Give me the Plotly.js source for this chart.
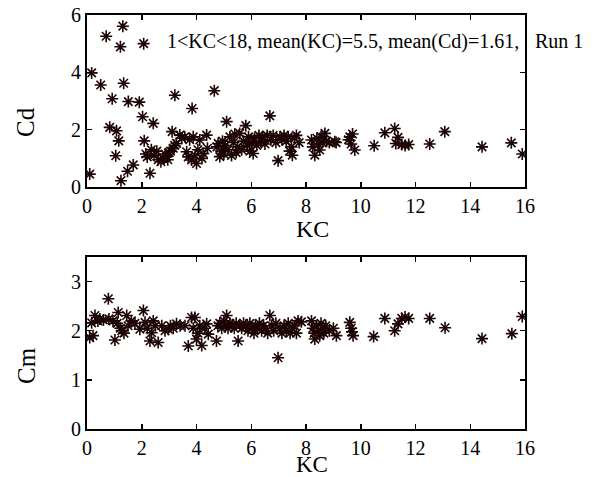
<!DOCTYPE html>
<html><head><meta charset="utf-8">
<script src="https://cdn.plot.ly/plotly-3.0.1.min.js"></script>
<style>html,body{margin:0;padding:0;background:#fff}</style>
</head><body><div id="chart" style="width:603px;height:477px"></div>
<script>
// Top panel: Cd vs KC
const kcCd = [0.10,0.17,0.50,0.70,0.83,0.92,1.05,1.08,1.16,1.22,1.24,1.31,1.34,1.48,1.51,1.69,1.91,2.03,2.07,2.09,2.15,2.20,2.30,2.35,2.42,2.45,2.55,2.60,2.70,2.78,2.85,2.90,2.95,3.00,3.05,3.11,3.15,3.20,3.21,3.27,3.39,3.46,3.57,3.64,3.70,3.75,3.82,3.84,3.88,3.95,4.00,4.05,4.12,4.20,4.25,4.37,4.40,4.65,4.75,4.79,4.85,4.90,4.95,5.00,5.05,5.10,5.15,5.22,5.28,5.35,5.40,5.45,5.50,5.58,5.65,5.72,5.80,5.85,5.90,5.95,6.02,6.07,6.12,6.20,6.28,6.35,6.42,6.50,6.58,6.68,6.72,6.80,6.90,6.98,7.05,7.12,7.20,7.28,7.35,7.40,7.47,7.50,7.58,7.65,7.75,8.20,8.25,8.32,8.40,8.45,8.50,8.55,8.60,8.69,8.75,8.85,9.05,9.10,9.55,9.60,9.65,9.70,9.78,10.49,10.88,11.24,11.28,11.36,11.50,11.62,11.75,12.52,13.07,14.43,15.50,15.90];
const cd = [0.45,3.98,3.56,5.26,2.08,3.08,1.09,1.96,1.61,4.89,0.22,5.61,3.62,0.55,2.98,0.77,2.96,2.45,5.00,1.61,1.15,1.05,0.48,1.30,2.22,1.10,1.25,0.95,0.88,1.00,1.15,1.06,0.95,1.20,1.25,1.93,1.35,1.45,3.20,1.52,1.81,1.70,1.75,1.23,1.05,1.65,0.94,2.74,1.75,1.10,0.82,1.30,1.64,1.00,1.17,1.81,1.35,3.36,1.40,1.52,1.06,1.25,1.60,1.15,1.45,2.28,1.30,1.75,1.10,1.55,1.85,1.20,1.40,1.87,1.30,1.60,2.14,1.45,1.75,1.25,1.55,1.17,1.70,1.45,1.80,1.60,1.75,1.50,1.80,2.48,1.65,1.80,1.55,0.92,1.75,1.65,1.80,1.60,1.75,1.25,1.40,1.11,1.70,1.80,1.55,1.64,1.40,1.11,1.70,1.50,1.29,1.75,1.55,1.87,1.60,1.55,1.58,1.55,1.65,1.75,1.50,1.85,1.29,1.44,1.89,2.04,1.52,1.73,1.48,1.45,1.48,1.50,1.93,1.40,1.54,1.15];

// Bottom panel: Cm vs KC
const kcCm = [0.10,0.17,0.22,0.29,0.40,0.47,0.60,0.78,0.80,0.95,1.02,1.10,1.14,1.22,1.27,1.35,1.45,1.50,1.62,1.75,1.93,2.06,2.12,2.20,2.30,2.36,2.42,2.50,2.60,2.73,2.85,2.97,3.05,3.15,3.27,3.40,3.58,3.70,3.82,3.88,3.94,4.00,4.05,4.12,4.19,4.30,4.37,4.43,4.73,4.78,4.85,4.92,5.00,5.05,5.10,5.15,5.22,5.30,5.38,5.45,5.52,5.58,5.65,5.72,5.80,5.88,5.95,6.02,6.10,6.15,6.22,6.30,6.38,6.45,6.52,6.60,6.68,6.75,6.82,6.90,6.98,7.05,7.12,7.20,7.28,7.35,7.42,7.50,7.58,7.65,7.71,7.83,8.20,8.25,8.30,8.32,8.38,8.45,8.50,8.55,8.60,8.65,8.72,8.85,9.00,9.11,9.60,9.65,9.68,9.72,10.47,10.88,11.24,11.36,11.50,11.62,11.75,12.52,13.08,14.43,15.52,15.90];
const cm = [1.86,2.16,1.90,2.31,2.20,2.24,2.22,2.65,2.24,2.20,1.81,2.15,2.37,2.05,2.00,1.95,2.31,2.10,2.20,2.15,2.03,2.41,2.17,2.05,1.79,1.96,2.20,2.10,1.76,2.10,2.00,2.03,2.10,2.05,2.14,2.10,2.10,1.69,2.27,2.05,2.27,1.83,1.95,2.10,1.70,2.05,2.14,1.93,1.79,2.10,2.15,2.05,2.20,2.10,2.31,2.05,2.15,2.10,2.05,2.15,1.79,2.10,2.05,2.15,2.10,2.00,2.15,2.05,1.95,2.10,2.05,2.15,2.00,2.10,2.05,1.95,2.31,2.10,2.00,2.15,1.45,2.05,1.95,2.10,2.00,2.15,1.95,2.05,2.10,1.95,2.20,2.18,2.20,2.05,1.95,1.83,2.10,2.00,1.90,2.15,2.05,1.95,2.10,2.00,2.05,1.90,2.17,2.05,1.98,1.90,1.88,2.25,2.00,2.14,2.25,2.28,2.25,2.25,2.06,1.84,1.94,2.29];

const xTicks = [0,2,4,6,8,10,12,14,16];
const cdTicks = [0,2,4,6];
const cmTicks = [0,1,2,3];
const xLabel = "KC";
const cdLabel = "Cd";
const cmLabel = "Cm";
const note = "1&lt;KC&lt;18, mean(KC)=5.5, mean(Cd)=1.61,";
const runLabel = "Run 1";

const W = 603, H = 477;
const ink = '#1c0404';
const mk = {symbol:'asterisk-open', size:10, color:ink, line:{color:ink, width:1.6}};
const fam = 'Liberation Serif';
const f = s => ({family:fam, size:s, color:'#000'});

const traces = [
  {x:kcCd, y:cd, type:'scatter', mode:'markers', marker:mk, xaxis:'x', yaxis:'y', hoverinfo:'skip'},
  {x:kcCm, y:cm, type:'scatter', mode:'markers', marker:mk, xaxis:'x2', yaxis:'y2', hoverinfo:'skip'}
];

function xax(anchor){
  return {domain:[87/W, 525/W], range:[0,16], tickvals:xTicks, ticktext:xTicks.map(String),
    ticks:'inside', ticklen:5, tickwidth:1.5, tickcolor:'#000', mirror:'ticks', showline:true,
    linecolor:'#000', linewidth:2, showgrid:false, zeroline:false, anchor:anchor,
    tickfont:f(20), ticklabelstandoff:0};
}
function yax(anchor, dom, rng, tv){
  return {domain:dom, range:rng, tickvals:tv, ticktext:tv.map(String),
    ticks:'inside', ticklen:5, tickwidth:1.5, tickcolor:'#000', mirror:'ticks', showline:true,
    linecolor:'#000', linewidth:2, showgrid:false, zeroline:false, anchor:anchor,
    tickfont:f(20)};
}
const py = p => (H - p) / H;
const px = p => p / W;

const layout = {
  width:W, height:H, showlegend:false,
  paper_bgcolor:'#fff', plot_bgcolor:'#fff',
  margin:{l:0, r:0, t:0, b:0},
  xaxis:xax('y'),
  yaxis:yax('x', [py(187), py(15)], [0,6], cdTicks),
  xaxis2:xax('y2'),
  yaxis2:yax('x2', [py(429), py(257)], [0,3.5], cmTicks),
  annotations:[
    {text:note, xref:'paper', yref:'paper', x:px(165), y:py(41), xanchor:'left', yanchor:'middle',
     showarrow:false, font:f(20)},
    {text:runLabel, xref:'paper', yref:'paper', x:px(533), y:py(41), xanchor:'left', yanchor:'middle',
     showarrow:false, font:f(20)},
    {text:xLabel, xref:'paper', yref:'paper', x:px(312), y:py(229), xanchor:'center', yanchor:'middle',
     showarrow:false, font:f(24)},
    {text:xLabel, xref:'paper', yref:'paper', x:px(312), y:py(464), xanchor:'center', yanchor:'middle',
     showarrow:false, font:f(23)},
    {text:cdLabel, xref:'paper', yref:'paper', x:px(25), y:py(122), xanchor:'center', yanchor:'middle',
     textangle:-90, showarrow:false, font:f(25)},
    {text:cmLabel, xref:'paper', yref:'paper', x:px(26), y:py(366), xanchor:'center', yanchor:'middle',
     textangle:-90, showarrow:false, font:f(25)}
  ]
};
Plotly.newPlot('chart', traces, layout, {staticPlot:true, displayModeBar:false});
</script></body></html>
